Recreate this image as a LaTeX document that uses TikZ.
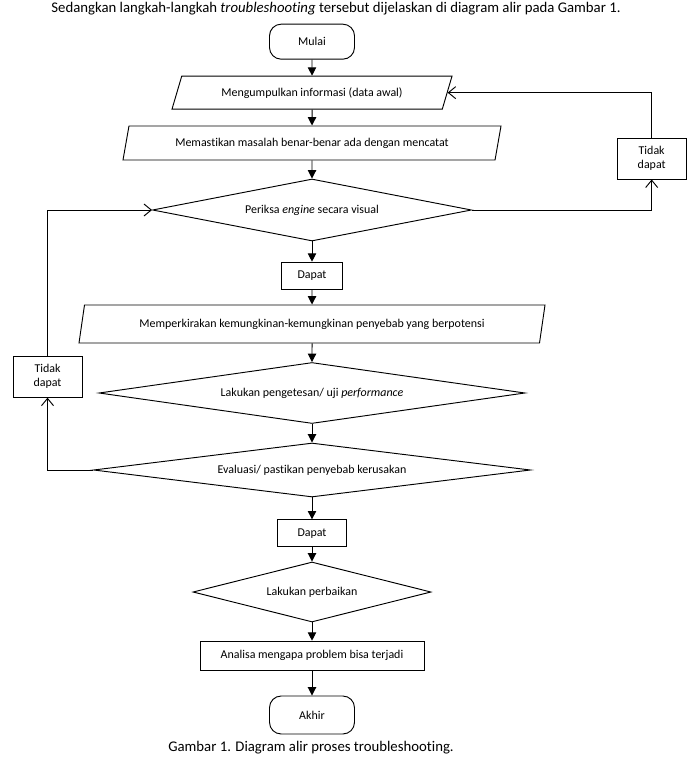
\documentclass[tikz,border=0pt]{standalone}
\usepackage{fontspec}
\setmainfont{Carlito}[Ligatures={TeX,NoCommon}]
\usepackage{tikz}
\usetikzlibrary{arrows.meta,shapes.geometric}

\tikzset{
 every node/.style={font=\fontsize{10.2}{12}\selectfont},
 term/.style={draw, rounded corners=0.35cm, minimum width=2.55cm, inner sep=0pt},
 io/.style={draw, trapezium, trapezium stretches body, inner sep=0pt},
 cek/.style={draw, diamond, inner sep=0pt},
 kotak/.style={draw, rectangle, inner sep=0pt},
 flow/.style={-{Triangle[length=0.25cm,width=0.25cm]}},
 balik/.style={-{Straight Barb[length=0.22cm,width=0.36cm]}},
 judul/.style={anchor=base, font=\fontsize{12.6}{15}\selectfont}
}

\begin{document}
\begin{tikzpicture}[line width=0.8pt]
 	\useasboundingbox (0,0) rectangle (20.61,-23.13);
 	%teks atas dan keterangan
 	\node[judul] (T) at (10.08,-0.38) {Sedangkan langkah-langkah \textit{troubleshooting} tersebut dijelaskan di diagram alir pada Gambar 1.};
 	\node[judul] (G) at (9.33,-22.53) {Gambar 1. Diagram alir proses troubleshooting.};
 	%alur utama
 	\node[term, minimum height=1.05cm] (M) at (9.36,-1.25) {Mulai};
 	\node[io, trapezium left angle=48, trapezium right angle=132, minimum width=8.4cm, minimum height=0.99cm] (P1) at (9.36,-2.78) {Mengumpulkan informasi (data awal)};
 	\node[io, trapezium left angle=60, trapezium right angle=120, minimum width=11.34cm, minimum height=1.02cm] (P2) at (9.36,-4.29) {Memastikan masalah benar-benar ada dengan mencatat};
 	\node[cek, aspect=5.15, minimum width=9.57cm, minimum height=1.86cm] (D1) at (9.36,-6.30) {Periksa \textit{engine} secara visual};
 	\node[kotak, minimum width=1.83cm, minimum height=0.81cm] (Y1) at (9.36,-8.27) {Dapat};
 	\node[io, trapezium left angle=62, trapezium right angle=118, minimum width=13.98cm, minimum height=1.14cm] (P3) at (9.36,-9.72) {Memperkirakan kemungkinan-kemungkinan penyebab yang berpotensi};
 	\node[cek, aspect=6.98, minimum width=12.78cm, minimum height=1.83cm] (D2) at (9.36,-11.79) {Lakukan pengetesan/ uji \textit{performance}};
 	\node[cek, aspect=8.09, minimum width=13.11cm, minimum height=1.62cm] (D3) at (9.36,-14.10) {Evaluasi/ pastikan penyebab kerusakan};
 	\node[kotak, minimum width=2.07cm, minimum height=0.81cm] (Y2) at (9.36,-16.0) {Dapat};
 	\node[cek, aspect=3.97, minimum width=7.14cm, minimum height=1.80cm] (D4) at (9.36,-17.76) {Lakukan perbaikan};
 	\node[kotak, minimum width=6.72cm, minimum height=0.87cm] (A1) at (9.36,-19.67) {Analisa mengapa problem bisa terjadi};
 	\node[term, minimum height=1.14cm] (E) at (9.36,-21.45) {Akhir};
 	%tidak dapat
 	\node[kotak, minimum width=2.07cm, minimum height=1.23cm, align=center] (N1) at (19.55,-4.755) {Tidak\\dapat};
 	\node[kotak, minimum width=2.07cm, minimum height=1.23cm, align=center] (N2) at (1.425,-11.30) {Tidak\\dapat};
 	%panah
 	\draw[flow] (M) -- (P1);
 	\draw[flow] (P1) -- (P2);
 	\draw[flow] (P2) -- (D1);
 	\draw[flow] (D1) -- (Y1);
 	\draw[flow] (Y1) -- (P3);
 	\draw[flow] (P3) -- (D2);
 	\draw[flow] (D2) -- (D3);
 	\draw[flow] (D3) -- (Y2);
 	\draw[flow] (Y2) -- (D4);
 	\draw[flow] (D4) -- (A1);
 	\draw[flow] (A1) -- (E);
 	%loop kanan
 	\draw[balik] (D1.east) -| (N1.south);
 	\draw[balik] (N1.north) |- (P1.east);
 	%loop kiri
 	\draw[balik] (D3.west) -| (N2.south);
 	\draw[balik] (N2.north) |- (D1.west);
\end{tikzpicture}
\end{document}
